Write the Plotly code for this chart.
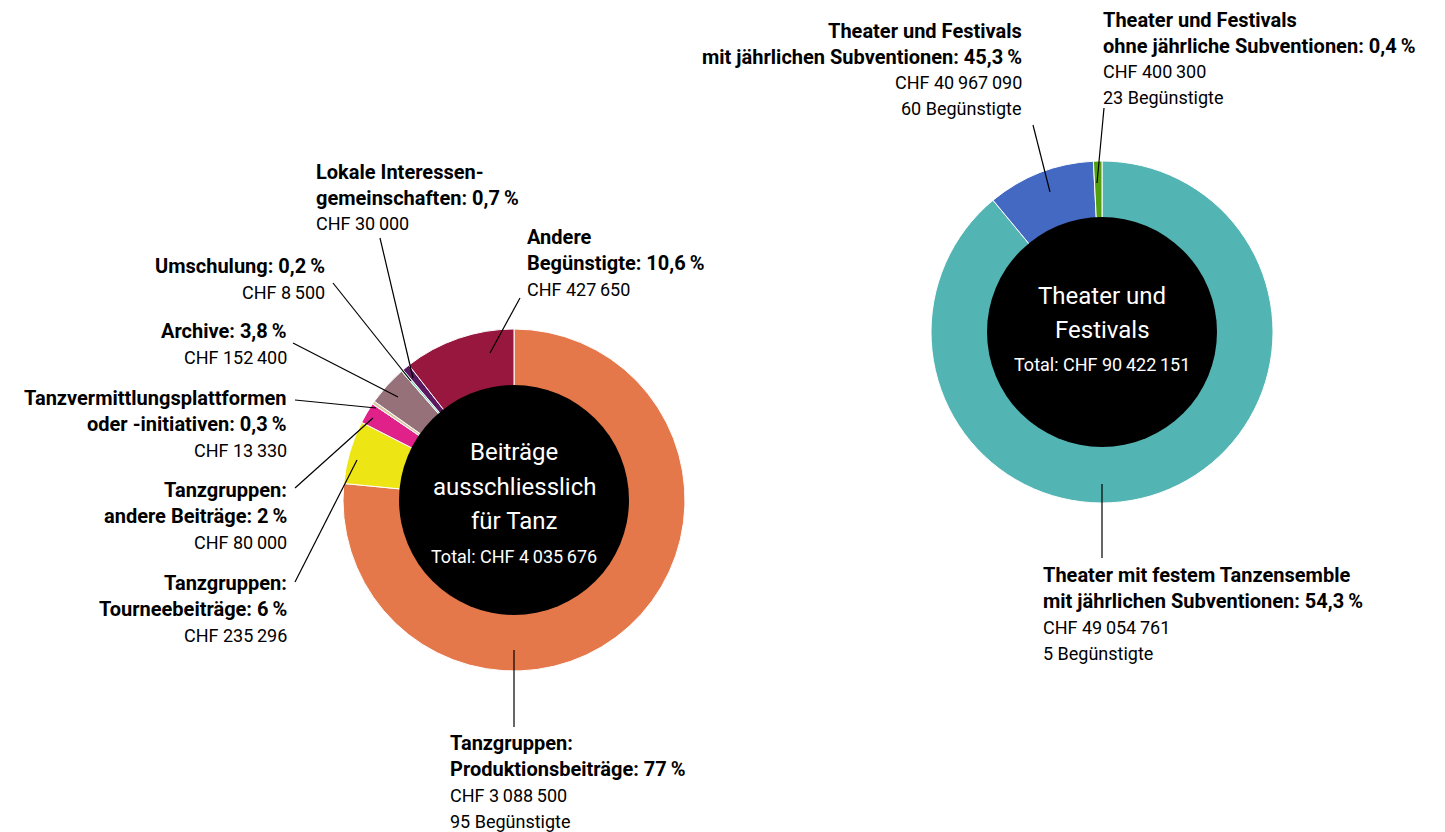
import plotly.graph_objects as go

W, H = 1445, 832
OFF = 8  # page body margin offset
FONT = "Roboto, Liberation Sans, sans-serif"
NB = "\u2009"

# ---------------- data ----------------
left_labels = ["Tanzgruppen: Produktionsbeiträge", "Tanzgruppen: Tourneebeiträge",
               "Tanzgruppen: andere Beiträge", "Tanzvermittlungsplattformen oder -initiativen",
               "Archive", "Umschulung", "Lokale Interessengemeinschaften", "Andere Begünstigte"]
left_share = [77.0, 6.0, 2.0, 0.3, 3.8, 0.2, 0.7, 10.6]
left_colors = ["#E5784B", "#EDE614", "#E0218A", "#D9C9A0", "#96717A", "#7ED8B4", "#5B1A5F", "#97173F"]

right_labels = ["Theater mit festem Tanzensemble mit jährlichen Subventionen",
                "Theater und Festivals mit jährlichen Subventionen",
                "Theater und Festivals ohne jährliche Subventionen"]
right_share = [89.0, 10.2, 0.8]   # slice sizes as drawn in the reference
right_colors = ["#52B5B3", "#4469C2", "#52A00E"]

# ---------------- geometry helpers ----------------
def px(x):
    return (x - OFF) / W

def py(y):
    return 1 - (y - OFF) / H

L_CX, L_CY, R_CX, R_CY, RAD, BLACK_R = 514, 500, 1102, 332, 171, 115

fig = go.Figure()
for labels, vals, cols, cx, cy in [(left_labels, left_share, left_colors, L_CX, L_CY),
                                   (right_labels, right_share, right_colors, R_CX, R_CY)]:
    fig.add_trace(go.Pie(
        labels=labels, values=vals, sort=False, direction="clockwise", rotation=0,
        hole=0.6, textinfo="none", hoverinfo="label+percent",
        marker=dict(colors=cols, line=dict(color="white", width=1)),
        domain=dict(x=[px(cx - RAD), px(cx + RAD)], y=[py(cy + RAD), py(cy - RAD)]),
        showlegend=False,
    ))

shapes = []
for cx, cy in [(L_CX, L_CY), (R_CX, R_CY)]:
    shapes.append(dict(type="circle", xref="paper", yref="paper",
                       x0=px(cx - BLACK_R), x1=px(cx + BLACK_R),
                       y0=py(cy + BLACK_R), y1=py(cy - BLACK_R),
                       fillcolor="black", line=dict(width=0), layer="above"))

# leader lines (slice -> label)
leaders = [
    ((514, 650), (514, 727)),
    ((357, 460), (295, 582)),
    ((373, 418), (295, 488)),
    ((376, 408), (295, 400)),
    ((398, 397), (293, 343)),
    ((411, 381), (333, 283)),
    ((413, 378), (380, 238)),
    ((490, 353), (520, 298)),
    ((1050, 192), (1033, 125)),
    ((1097, 183), (1104, 108)),
    ((1102, 484), (1102, 558)),
]
for (x0, y0), (x1, y1) in leaders:
    shapes.append(dict(type="line", xref="paper", yref="paper",
                       x0=px(x0), y0=py(y0), x1=px(x1), y1=py(y1),
                       line=dict(color="black", width=1.2), layer="above"))

annotations = []

def block(lines_bold, lines_norm, x, y_first, anchor, step=26):
    parts = [(f"<b>{t}</b>", 20) for t in lines_bold] + [(t, 18) for t in lines_norm]
    for i, (t, size) in enumerate(parts):
        annotations.append(dict(text=t, x=px(x), y=py(y_first + i * step), xref="paper", yref="paper",
                                xanchor=anchor, yanchor="middle", showarrow=False, borderpad=0,
                                font=dict(family=FONT, size=size, color="black")))

block(["Tanzvermittlungsplattformen", f"oder -initiativen: 0,3{NB}%"], [f"CHF 13{NB}330"], 288, 398, "right")
block(["Tanzgruppen:", f"andere Beiträge: 2{NB}%"], [f"CHF 80{NB}000"], 288, 490, "right")
block(["Tanzgruppen:", f"Tourneebeiträge: 6{NB}%"], [f"CHF 235{NB}296"], 288, 583, "right")
block([f"Archive: 3,8{NB}%"], [f"CHF 152{NB}400"], 288, 331, "right")
block([f"Umschulung: 0,2{NB}%"], [f"CHF 8{NB}500"], 326, 266, "right")
block(["Lokale Interessen-", f"gemeinschaften: 0,7{NB}%"], [f"CHF 30{NB}000"], 315, 172, "left")
block(["Andere", f"Begünstigte: 10,6{NB}%"], [f"CHF 427{NB}650"], 526, 237, "left")
block(["Tanzgruppen:", f"Produktionsbeiträge: 77{NB}%"], [f"CHF 3{NB}088{NB}500", "95 Begünstigte"], 449, 743, "left")
block(["Theater und Festivals", f"mit jährlichen Subventionen: 45,3{NB}%"],
      [f"CHF 40{NB}967{NB}090", "60 Begünstigte"], 1023, 31, "right")
block(["Theater und Festivals", f"ohne jährliche Subventionen: 0,4{NB}%"],
      [f"CHF 400{NB}300", "23 Begünstigte"], 1102, 20, "left")
block(["Theater mit festem Tanzensemble", f"mit jährlichen Subventionen: 54,3{NB}%"],
      [f"CHF 49{NB}054{NB}761", "5 Begünstigte"], 1042, 575, "left")

def center_text(text, x, y, size):
    annotations.append(dict(text=text, x=px(x), y=py(y), xref="paper", yref="paper",
                            xanchor="center", yanchor="middle", showarrow=False,
                            font=dict(family=FONT, size=size, color="white")))

center_text("Beiträge", L_CX, 452, 24)
center_text("ausschliesslich", L_CX, 487, 24)
center_text("für Tanz", L_CX, 521, 24)
center_text(f"Total: CHF 4{NB}035{NB}676", L_CX, 556, 18)
center_text("Theater und", R_CX, 296, 24)
center_text("Festivals", R_CX, 330, 24)
center_text(f"Total: CHF 90{NB}422{NB}151", R_CX, 364, 18)

fig.update_layout(width=W, height=H, margin=dict(l=0, r=0, t=0, b=0),
                  paper_bgcolor="white", plot_bgcolor="white",
                  shapes=shapes, annotations=annotations)

fig.write_html("out.html")
